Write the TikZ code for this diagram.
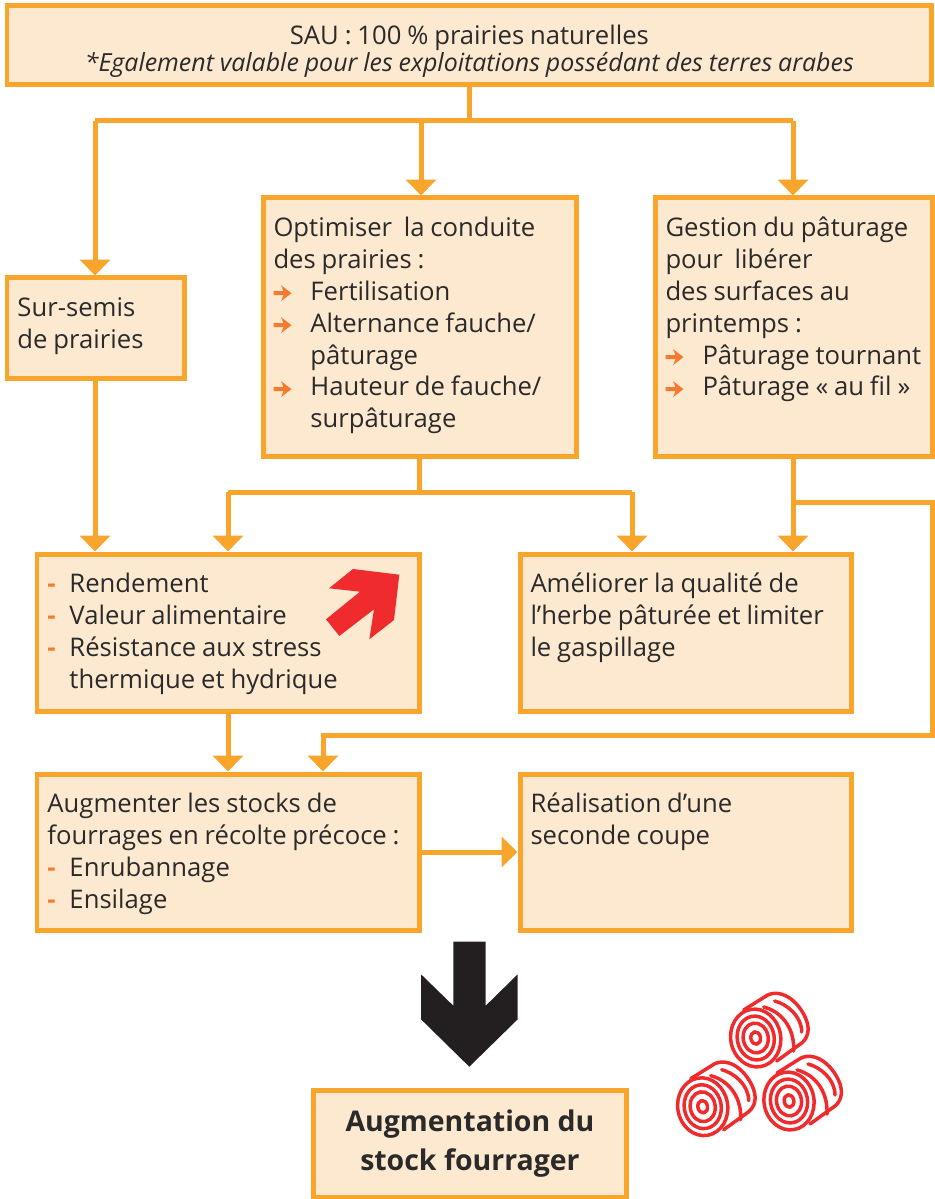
\documentclass[tikz,border=0pt]{standalone}
\usepackage{fontspec}
\setmainfont{Open Sans}
\usetikzlibrary{positioning, arrows.meta}
\definecolor{cadre}{HTML}{F9A42B}
\definecolor{fond}{HTML}{FDE9CF}
\definecolor{puce}{HTML}{F47A30}
\definecolor{rouge}{HTML}{EF2B2D}
\definecolor{encre}{HTML}{2A2A2A}
\definecolor{noir}{HTML}{231F20}
\newcommand{\fl}{\tikz[baseline=-.5ex, x=.02cm, y=.02cm]{\fill[puce] (0,-2) -- (10,-2) -- (7.5,-8) -- (18,0) -- (7.5,8) -- (10,2) -- (0,2) -- cycle;}}
\newcommand{\itemfl}[1]{\hangindent=.74cm\hangafter=1\makebox[.74cm][l]{\fl}#1\par}
\newcommand{\itemtr}[1]{\hangindent=.44cm\hangafter=1\makebox[.44cm][l]{\textcolor{puce}{\bfseries -}}#1\par}
\newcommand{\boite}[2]{\parbox[t][#1][t]{\linewidth}{\fontsize{14.6pt}{18.2pt}\selectfont\color{encre}\raggedright\rule{0pt}{16pt}#2}}
\begin{document}
\begin{tikzpicture}[x=.02cm, y=-.02cm,
    case/.style={rectangle, draw=cadre, fill=fond, line width=.1cm, inner xsep=.21cm, inner ysep=.2cm, anchor=north west},
    liaison/.style={draw=cadre, line width=.1cm},
    fleche/.style={liaison, -{Triangle[length=.32cm, width=.6cm]}},
    botte/.pic={
        \begin{scope}[draw=rouge, line width=.07cm, line cap=round, line join=round]
        \foreach \rx/\ry in {25/29, 18.5/22, 12.5/15, 4.8/6.3}
            \draw[rotate=10] (0,0) circle [x radius=\rx*.02cm, y radius=\ry*.02cm];
        \draw (-12,-28) -- (12,-43) .. controls (28,-50) and (45,-34) .. (51,-17) .. controls (54,-8) and (52,0) .. (46,5) -- (21,23);
        \draw (8,-31) .. controls (24,-27) and (39,-12) .. (38,13);
        \draw (19,-37) .. controls (31,-34) and (46,-22) .. (46,-6);
        \end{scope}
    },
    ]
    \useasboundingbox (0,0) rectangle (935,1199);
    % Top box
    \node[case, inner ysep=0pt, text width=18.08cm, align=center, minimum height=1.58cm] (sau) at (4.5,3.5)
        {\fontsize{14.6pt}{17.4pt}\selectfont\color{encre}\rule{0pt}{18pt}SAU : 100 \% prairies naturelles\\
        \fontsize{14.2pt}{17.4pt}\selectfont\itshape *Egalement valable pour les exploitations possédant des terres arabes};
    % Second row
    \node[case, text width=3.14cm] (semis) at (4.5,275.5) {\boite{1.62cm}{Sur-semis\\de prairies}};
    \node[case, text width=5.86cm] (prairies) at (260.5,195.5) {\boite{4.78cm}{Optimiser~ la conduite\\des prairies :\par
        \itemfl{Fertilisation}\itemfl{Alternance fauche/\newline pâturage}\itemfl{Hauteur de fauche/\newline surpâturage}}};
    \node[case, text width=5.14cm] (paturage) at (652.5,195.5) {\boite{4.78cm}{Gestion du pâturage\\pour~ libérer\\des surfaces au\\printemps :\par
        \itemfl{\mbox{Pâturage tournant}}\itemfl{Pâturage « au fil »}}};
    % Third row
    \node[case, text width=7.24cm] (rendement) at (34.5,551.5) {\boite{2.76cm}{\itemtr{Rendement}\itemtr{Valeur alimentaire}\itemtr{Résistance aux stress\newline thermique et hydrique}}};
    \node[case, text width=6.22cm] (qualite) at (517.5,551.5) {\boite{2.76cm}{Améliorer la qualité de\\l’herbe pâturée et limiter\\le gaspillage}};
    % Fourth row
    \node[case, text width=7.24cm] (stocks) at (34.5,771.5) {\boite{2.74cm}{Augmenter les stocks de\\fourrages en récolte précoce :\par
        \itemtr{Enrubannage}\itemtr{Ensilage}}};
    \node[case, text width=6.22cm] (coupe) at (517.5,771.5) {\boite{2.74cm}{Réalisation d’une\\seconde coupe}};
    % Result
    \node[case, minimum width=6.28cm, minimum height=2.16cm, align=center, font=\fontsize{16.2pt}{22.2pt}\selectfont\bfseries, text=encre] (resultat) at (310.5,1087.5)
        {Augmentation du\\stock fourrager};

    % Junctions
    \coordinate (jh) at (469,121);
    \coordinate (jg) at (95,121);
    \coordinate (jm) at (421,121);
    \coordinate (jd) at (793,121);
    \coordinate (jo) at (419,492);
    \coordinate (jrg) at (228,492);
    \coordinate (jrd) at (632,492);
    \coordinate (jb1) at (793,502);
    \coordinate (jb2) at (932,502);
    \coordinate (jb3) at (932,735);
    \coordinate (jb4) at (323,735);
    \coordinate (ja) at (470,852);

    % Edges
    \draw[liaison] (sau.south -| jh) -- (jh);
    \draw[liaison] (jg) -- (jd);
    \draw[fleche] (jg) -- (semis.north -| jg);
    \draw[fleche] (jm) -- (prairies.north -| jm);
    \draw[fleche] (jd) -- (paturage.north -| jd);
    \draw[fleche] (semis.south -| jg) -- (rendement.north -| jg);
    \draw[liaison] (prairies.south -| jo) -- (jo);
    \draw[liaison] (jrg) -- (jrd);
    \draw[fleche] (jrg) -- (rendement.north -| jrg);
    \draw[fleche] (jrd) -- (qualite.north -| jrd);
    \draw[fleche] (paturage.south -| jb1) -- (qualite.north -| jb1);
    \draw[fleche] (jb1) -- (jb2) -- (jb3) -- (jb4) -- (stocks.north -| jb4);
    \draw[fleche] (rendement.south -| jrg) -- (stocks.north -| jrg);
    \draw[fleche] (stocks.east |- ja) -- (coupe.west |- ja);

    % Big arrows
    \fill[noir] (453.3,941.7) -- (485.7,941.7) -- (485.7,1005.7) -- (517.7,974.3) -- (517.7,1019.3) -- (469.3,1066.7) -- (421,1019.3) -- (421,974.3) -- (453.3,1005.7) -- cycle;
    \fill[rouge] (399.3,574.7) -- (394,620) -- (369.3,639.3) -- (374,609.3) -- (339.3,636) -- (326,619.3) -- (360,591.7) -- (329,588.3) -- (353,569) -- cycle;

    % Bales
    \pic at (755.7,1038) {botte};
    \pic at (702.7,1106.7) {botte};
    \pic at (789,1101) {botte};
\end{tikzpicture}
\end{document}
